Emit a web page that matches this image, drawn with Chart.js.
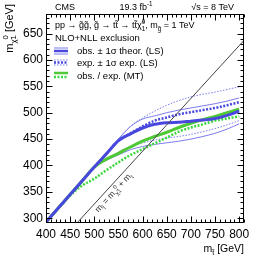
<!DOCTYPE html>
<html>
<head>
<meta charset="utf-8">
<script src="https://cdn.jsdelivr.net/npm/chart.js@4"></script>
<style>
  html, body { margin: 0; padding: 0; background: #fff; }
  canvas { display: block; }
</style>
</head>
<body>
<canvas id="c" width="257" height="258" style="width:257px;height:258px"></canvas>
<script>
// stop mass points (GeV)
const stopMass = [400, 425, 450, 475, 500, 525, 550, 575, 600, 625, 650, 675, 700, 725, 750, 775, 800];

// LS limits on the neutralino mass (GeV)
const obsLS     = [293, 319, 345, 371, 397, 422, 447, 460, 471, 478, 481, 482, 484, 486, 489, 495, 503];
const obsLSUp   = [293, 319, 345, 371, 397, 422, 450, 474, 488, 494, 500, 505, 509, 513, 517, 522, 528];
const obsLSDown = [293, 319, 345, 371, 397, 410, 420, 430, 436, 440, 443, 446, 450, 455, 461, 469, 479];
const expLS     = [293, 319, 345, 371, 397, 422, 447, 461, 474, 485, 491, 497, 501, 505, 509, 514, 520];
const expLSUp   = [293, 319, 345, 371, 397, 422, 450, 474, 490, 503, 514, 523, 530, 535, 539, 544, 549];
const expLSDown = [293, 319, 345, 371, 397, 412, 425, 436, 443, 448, 452, 455, 459, 464, 470, 477, 485];

// MT limits
const obsMT = [293, 319, 345, 371, 397, 412, 423, 435, 446, 455, 463, 472, 480, 487, 493, 500, 507];
const expMT = [293, 318, 343, 362, 375, 391, 406, 420, 431, 442, 453, 464, 472, 478, 485, 489, 493];

// kinematic line m_stop = m_chi + m_top
const kinX = [465, 810];
const kinY = [292, 637];

const xTicks = [400, 450, 500, 550, 600, 650, 700, 750, 800];
const yTicks = [300, 350, 400, 450, 500, 550, 600, 650];

const FONT = '"Liberation Sans", Arial, Helvetica, sans-serif';
const BLUE = 'rgb(72, 72, 222)';
const BLUE_THIN = 'rgba(110, 110, 235, 0.9)';
const GREEN = 'rgb(78, 200, 52)';
const GREEN_DOT = 'rgb(60, 215, 60)';

const pts = (xs, ys) => xs.map((v, i) => ({ x: v, y: ys[i] }));

function ds(label, values, color, width, dash) {
  return {
    label: label,
    data: pts(stopMass, values),
    borderColor: color,
    borderWidth: width,
    borderDash: dash || [],
    pointRadius: 0,
    fill: false,
    cubicInterpolationMode: 'monotone'
  };
}

// rich text: strings are normal text, {sub, sup} objects are small scripts
function partsWidth(ctx, parts, size) {
  let w = 0;
  parts.forEach(p => {
    if (typeof p === 'string') {
      ctx.font = size + 'px ' + FONT;
      w += ctx.measureText(p).width;
    } else {
      ctx.font = (size * 0.7) + 'px ' + FONT;
      w += Math.max(ctx.measureText(p.sub || '').width, ctx.measureText(p.sup || '').width);
    }
  });
  return w;
}

function drawRich(ctx, parts, x, y, size, align) {
  let w = partsWidth(ctx, parts, size);
  let cx = align === 'right' ? x - w : align === 'center' ? x - w / 2 : x;
  ctx.textAlign = 'left';
  ctx.textBaseline = 'alphabetic';
  parts.forEach(p => {
    if (typeof p === 'string') {
      ctx.font = size + 'px ' + FONT;
      ctx.fillText(p, cx, y);
      cx += ctx.measureText(p).width;
    } else {
      ctx.font = (size * 0.7) + 'px ' + FONT;
      let ww = 0;
      if (p.sub) { ctx.fillText(p.sub, cx, y + size * 0.28); ww = ctx.measureText(p.sub).width; }
      if (p.sup) { ctx.fillText(p.sup, cx, y - size * 0.4); ww = Math.max(ww, ctx.measureText(p.sup).width); }
      cx += ww;
    }
  });
}

const rootFrame = {
  id: 'rootFrame',
  afterDatasetsDraw(chart) {
    const { ctx, chartArea: a, scales: { x, y } } = chart;
    ctx.save();
    ctx.strokeStyle = '#000';
    ctx.lineWidth = 1;
    const L = Math.round(a.left) + 0.5, R = Math.round(a.right) - 0.5;
    const T = Math.round(a.top) + 0.5, B = Math.round(a.bottom) - 0.5;
    ctx.strokeRect(L, T, R - L, B - T);

    // ticks inside, all four sides
    ctx.beginPath();
    for (let v = 400; v <= 810; v += 10) {
      const px = Math.round(x.getPixelForValue(v)) + 0.5;
      const len = v % 50 === 0 ? 6 : 3;
      ctx.moveTo(px, B); ctx.lineTo(px, B - len);
      ctx.moveTo(px, T); ctx.lineTo(px, T + len);
    }
    for (let v = 300; v <= 680; v += 10) {
      const py = Math.round(y.getPixelForValue(v)) + 0.5;
      const len = v % 50 === 0 ? 6 : 3;
      ctx.moveTo(L, py); ctx.lineTo(L + len, py);
      ctx.moveTo(R, py); ctx.lineTo(R - len, py);
    }
    ctx.stroke();

    ctx.fillStyle = '#000';
    // header
    drawRich(ctx, ['CMS'], 55, 9.5, 9, 'left');
    drawRich(ctx, ['19.3 fb', { sup: '-1' }], 136, 9.5, 9, 'center');
    drawRich(ctx, ['\u221As = 8 TeV'], 234, 9.5, 9, 'right');

    // axis titles
    drawRich(ctx, ['m', { sub: 't\u0303' }, ' [GeV]'], 244, 252, 10.5, 'right');
    ctx.save();
    ctx.translate(12.5, 4);
    ctx.rotate(-Math.PI / 2);
    drawRich(ctx, ['m', { sub: '\u03C7\u0303' }, { sub: '1', sup: '0' }, ' [GeV]'], 0, 0, 11, 'right');
    ctx.restore();

    // legend block
    drawRich(ctx, ['pp \u2192 g\u0303g\u0303, g\u0303 \u2192 tt\u0303 \u2192 tt\u0303\u03C7\u0303', { sub: '1', sup: '0' }, ', m', { sub: 'g\u0303' }, ' = 1 TeV'], 55, 28, 9, 'left');
    drawRich(ctx, ['NLO+NLL exclusion'], 55, 40.5, 9.5, 'left');
    drawRich(ctx, ['obs. \u00B1 1\u03C3 theor. (LS)'], 77, 54, 9.5, 'left');
    drawRich(ctx, ['exp. \u00B1 1\u03C3 exp. (LS)'], 77, 66, 9.5, 'left');
    drawRich(ctx, ['obs. / exp. (MT)'], 77, 78.5, 9.5, 'left');

    const seg = (yy, color, w, dash) => {
      ctx.beginPath();
      ctx.strokeStyle = color;
      ctx.lineWidth = w;
      ctx.setLineDash(dash);
      ctx.moveTo(54, yy); ctx.lineTo(68, yy);
      ctx.stroke();
    };
    seg(48, BLUE_THIN, 1, []);
    seg(51, BLUE, 2.5, []);
    seg(54, BLUE_THIN, 1, []);
    seg(60, BLUE_THIN, 1, [1.5, 1.5]);
    seg(62.5, BLUE, 2.5, [2, 1.5]);
    seg(65, BLUE_THIN, 1, [1.5, 1.5]);
    seg(73, GREEN, 2.5, []);
    seg(77, GREEN_DOT, 2.5, [2, 1.5]);
    ctx.setLineDash([]);

    // label of the kinematic line
    const p1x = x.getPixelForValue(kinX[0]), p1y = y.getPixelForValue(kinY[0]);
    const p2x = x.getPixelForValue(kinX[1]), p2y = y.getPixelForValue(kinY[1]);
    const ang = Math.atan2(p2y - p1y, p2x - p1x);
    const t = (530 - kinX[0]) / (kinX[1] - kinX[0]);
    ctx.translate(p1x + t * (p2x - p1x), p1y + t * (p2y - p1y));
    ctx.rotate(ang);
    ctx.fillStyle = '#333';
    drawRich(ctx, ['m', { sub: 't\u0303' }, ' = m', { sub: '\u03C7\u0303' }, { sub: '1', sup: '0' }, ' + m', { sub: 't' }], 0, 9, 8.5, 'center');
    ctx.restore();
  }
};

new Chart(document.getElementById('c'), {
  type: 'line',
  data: {
    datasets: [
      { label: 'kin', data: pts(kinX, kinY), borderColor: '#444', borderWidth: 1, pointRadius: 0, fill: false },
      ds('obs LS', obsLS, BLUE, 3),
      ds('obs MT', obsMT, GREEN, 3),
      ds('exp LS', expLS, BLUE, 2.5, [2, 1.5]),
      ds('exp MT', expMT, GREEN_DOT, 2.5, [2, 1.5]),
      ds('obs LS +1s', obsLSUp, BLUE_THIN, 1),
      ds('obs LS -1s', obsLSDown, BLUE_THIN, 1),
      ds('exp LS +1s', expLSUp, BLUE_THIN, 1, [1.5, 1.5]),
      ds('exp LS -1s', expLSDown, BLUE_THIN, 1, [1.5, 1.5])
    ]
  },
  options: {
    responsive: false,
    animation: false,
    events: [],
    layout: { padding: { top: 14, right: 13, left: 0, bottom: 0 } },
    plugins: { legend: { display: false }, tooltip: { enabled: false } },
    scales: {
      x: {
        type: 'linear', min: 400, max: 810,
        grid: { display: false, drawTicks: false },
        border: { display: false },
        afterBuildTicks: s => { s.ticks = xTicks.map(v => ({ value: v })); },
        afterFit: s => { s.height = 35.5; },
        ticks: { padding: 5, maxRotation: 0, autoSkip: false, color: '#000', font: { family: FONT, size: 12 } }
      },
      y: {
        type: 'linear', min: 292, max: 687,
        grid: { display: false, drawTicks: false },
        border: { display: false },
        afterBuildTicks: s => { s.ticks = yTicks.map(v => ({ value: v })); },
        afterFit: s => { s.width = 46; },
        ticks: { padding: 3, autoSkip: false, color: '#000', font: { family: FONT, size: 12 } }
      }
    }
  },
  plugins: [rootFrame]
});
</script>
</body>
</html>
